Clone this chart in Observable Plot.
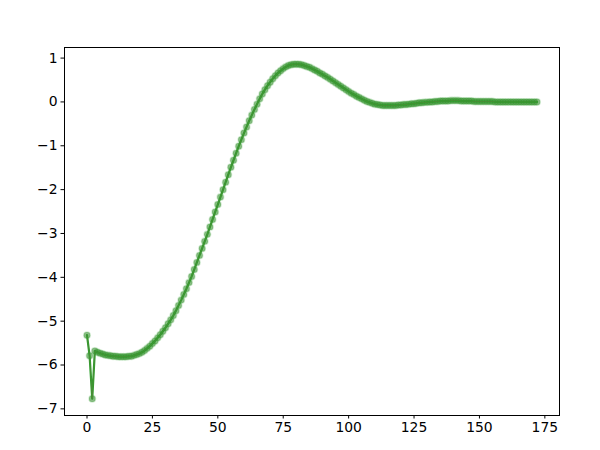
<!DOCTYPE html>
<html>
<head>
<meta charset="utf-8">
<script src="https://cdn.jsdelivr.net/npm/d3@7"></script>
<script src="https://cdn.jsdelivr.net/npm/@observablehq/plot@0.6"></script>
<style>
  html, body { margin: 0; padding: 0; background: #fff; }
  #chart { width: 600px; height: 450px; }
</style>
</head>
<body>
<div id="chart"></div>
<script>
// Series values, one per step x = 0, 1, 2, ...
const yValues = [
  -5.32, -5.79, -6.77, -5.68, -5.71, -5.73, -5.75, -5.77, -5.78, -5.79,
  -5.80, -5.80, -5.81, -5.81, -5.81, -5.81, -5.80, -5.80, -5.78, -5.76,
  -5.74, -5.71, -5.67, -5.62, -5.57, -5.51, -5.45, -5.38, -5.31, -5.23,
  -5.15, -5.06, -4.97, -4.87, -4.76, -4.64, -4.52, -4.39, -4.26, -4.12,
  -3.98, -3.82, -3.66, -3.50, -3.34, -3.18, -3.02, -2.85, -2.68, -2.51,
  -2.34, -2.17, -2.00, -1.83, -1.66, -1.49, -1.33, -1.17, -1.01, -0.86,
  -0.71, -0.57, -0.43, -0.30, -0.17, -0.05, 0.07, 0.18, 0.28, 0.37,
  0.45, 0.53, 0.60, 0.66, 0.71, 0.76, 0.80, 0.83, 0.85, 0.86,
  0.86, 0.86, 0.85, 0.83, 0.81, 0.79, 0.76, 0.73, 0.70, 0.66,
  0.63, 0.59, 0.56, 0.52, 0.48, 0.44, 0.40, 0.36, 0.32, 0.28,
  0.24, 0.20, 0.17, 0.13, 0.10, 0.07, 0.04, 0.01, -0.01, -0.03,
  -0.05, -0.06, -0.07, -0.08, -0.08, -0.08, -0.08, -0.08, -0.08, -0.07,
  -0.07, -0.06, -0.06, -0.05, -0.04, -0.04, -0.03, -0.02, -0.02, -0.01,
  -0.01, 0.00, 0.00, 0.01, 0.01, 0.02, 0.02, 0.02, 0.02, 0.03,
  0.03, 0.03, 0.03, 0.02, 0.02, 0.02, 0.02, 0.02, 0.01, 0.01,
  0.01, 0.01, 0.01, 0.01, 0.01, 0.01, 0.00, 0.00, 0.00, 0.00,
  0.00, 0.00, 0.00, 0.00, 0.00, 0.00, 0.00, 0.00, 0.00, 0.00,
  0.00, 0.00, 0.00
];
const xValues = yValues.map((_, i) => i);
const xTicks = [0, 25, 50, 75, 100, 125, 150, 175];
const yTicks = [-7, -6, -5, -4, -3, -2, -1, 0, 1];

const data = xValues.map((x, i) => ({x, y: yValues[i]}));

const xMin = d3.min(xValues), xMax = d3.max(xValues);
const yMin = d3.min(yValues), yMax = d3.max(yValues);
const xPad = (xMax - xMin) * 0.05, yPad = (yMax - yMin) * 0.05;

const chart = Plot.plot({
  width: 600,
  height: 450,
  marginLeft: 64,
  marginRight: 41,
  marginTop: 47,
  marginBottom: 35,
  style: {fontFamily: "DejaVu Sans", fontSize: "13.9px", color: "black", background: "white"},
  x: {domain: [xMin - xPad, xMax + xPad], ticks: xTicks, tickSize: 3.5, tickPadding: 3.5, label: null, tickFormat: d3.format("d")},
  y: {domain: [yMin - yPad, yMax + yPad], ticks: yTicks, tickSize: 3.5, tickPadding: 3.5, label: null, tickFormat: d3.format("d")},
  marks: [
    Plot.dot(data, {x: "x", y: "y", r: 3.2, fill: "#3d8f33", fillOpacity: 0.6, stroke: "#2ca02c", strokeOpacity: 0.2, strokeWidth: 1.6}),
    Plot.line(data, {x: "x", y: "y", stroke: "#2ca02c", strokeWidth: 2.2}),
    Plot.line(data, {x: "x", y: "y", stroke: "#7d6a4a", strokeWidth: 0.8, strokeOpacity: 0.45}),
    Plot.axisX({ticks: xTicks, tickSize: 3.5, tickPadding: 3.5, tickFormat: d3.format("d")}),
    Plot.axisY({ticks: yTicks, tickSize: 3.5, tickPadding: 3.5, tickFormat: d3.format("d")}),
    Plot.frame({stroke: "black", strokeWidth: 1})
  ]
});
document.getElementById("chart").appendChild(chart);
</script>
</body>
</html>
